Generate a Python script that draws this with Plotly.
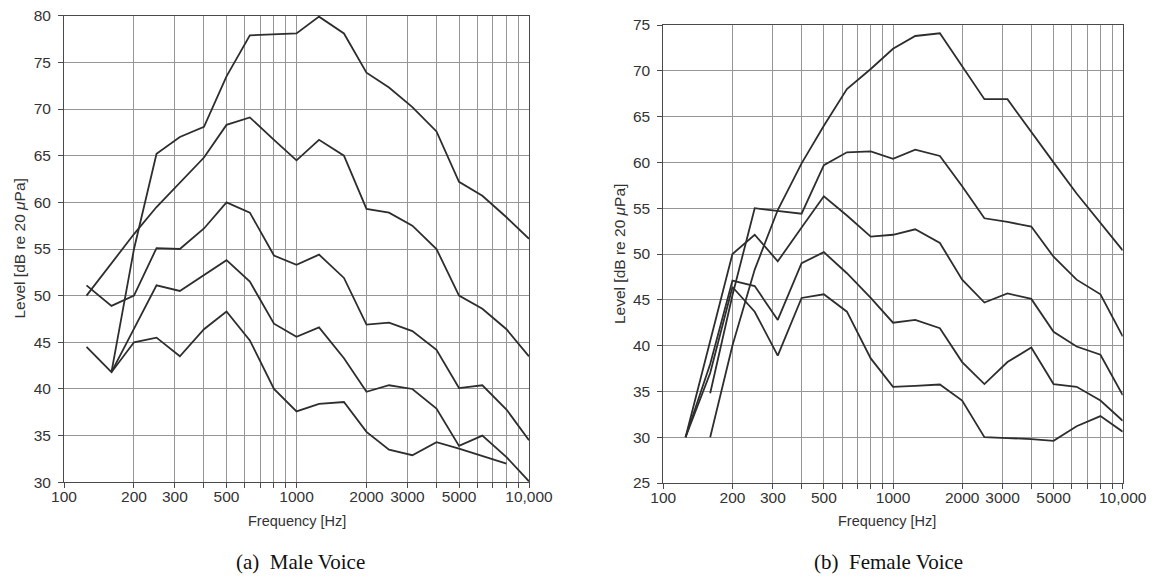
import plotly.graph_objects as go

# 1/3-octave band centre frequencies (Hz)
freq_hz = [125, 160, 200, 250, 315, 400, 500, 630, 800, 1000, 1250, 1600,
           2000, 2500, 3150, 4000, 5000, 6300, 8000, 10000]

# Male voice spectra, loudest to softest (dB re 20 uPa)
male_1 = [None, 41.8, 55.0, 65.2, 67.0, 68.1, 73.5, 77.9, 78.0, 78.1, 79.9, 78.1,
          73.9, 72.3, 70.2, 67.6, 62.2, 60.7, 58.4, 56.1]
male_2 = [50.0, 53.5, 56.6, 59.5, 62.1, 64.8, 68.3, 69.1, 66.7, 64.5, 66.7, 65.0,
          59.3, 58.9, 57.5, 55.0, 50.0, 48.6, 46.4, 43.5]
male_3 = [51.1, 48.9, 50.0, 55.1, 55.0, 57.2, 60.0, 58.9, 54.3, 53.3, 54.4, 51.9,
          46.9, 47.1, 46.2, 44.2, 40.1, 40.4, 37.8, 34.5]
male_4 = [None, 41.8, 46.5, 51.1, 50.5, 52.2, 53.8, 51.5, 47.0, 45.6, 46.6, 43.3,
          39.7, 40.4, 40.0, 37.9, 33.9, 35.0, 32.7, 30.1]
male_5 = [44.5, 41.8, 45.0, 45.5, 43.5, 46.4, 48.3, 45.2, 40.0, 37.6, 38.4, 38.6,
          35.4, 33.5, 32.9, 34.3, 33.6, 32.8, 32.0, None]

# Female voice spectra, loudest to softest (dB re 20 uPa)
female_1 = [None, 30.0, 40.0, 48.3, 54.8, 59.9, 64.0, 68.0, 70.2, 72.4, 73.8, 74.1,
            70.5, 66.9, 66.9, 63.3, 60.0, 56.6, 53.4, 50.4]
female_2 = [None, 34.8, 45.5, 55.0, 54.7, 54.4, 59.7, 61.1, 61.2, 60.4, 61.4, 60.7,
            57.4, 53.9, 53.5, 53.0, 49.7, 47.2, 45.6, 41.0]
female_3 = [30.0, 40.4, 50.0, 52.1, 49.2, 52.9, 56.3, 54.2, 51.9, 52.1, 52.7, 51.2,
            47.2, 44.7, 45.7, 45.1, 41.5, 39.9, 39.0, 34.6]
female_4 = [30.0, 38.0, 47.1, 46.5, 42.8, 49.0, 50.2, 47.9, 45.2, 42.5, 42.8, 41.9,
            38.2, 35.8, 38.2, 39.8, 35.8, 35.5, 34.0, 31.8]
female_5 = [30.0, 37.0, 46.4, 43.7, 38.9, 45.2, 45.6, 43.7, 38.6, 35.5, 35.6, 35.75,
            34.0, 30.0, 29.9, 29.8, 29.6, 31.2, 32.3, 30.6]

male_series = [male_1, male_2, male_3, male_4, male_5]
female_series = [female_1, female_2, female_3, female_4, female_5]

# Frequency axis: grid/ticks at every 1..9 x decade, labels on a subset
x_tick_vals = [100, 200, 300, 400, 500, 600, 700, 800, 900,
               1000, 2000, 3000, 4000, 5000, 6000, 7000, 8000, 9000, 10000]
x_tick_text = ["100", "200", "300", "", "500", "", "", "", "",
               "1000", "2000", "3000", "", "5000", "", "", "", "", "10,000"]

male_y_range = [30, 80]
female_y_range = [25, 75]

W, H = 1155, 583
LINE = "#2e2e2e"
GRID = "#969696"
AXIS = "#4a4a4a"
TICK_FONT = dict(family="Liberation Sans, Arial, sans-serif", size=15.5, color="#333333")

fig = go.Figure()

for s in male_series:
    fig.add_trace(go.Scatter(x=freq_hz, y=s, mode="lines", xaxis="x", yaxis="y",
                             line=dict(color=LINE, width=1.8), showlegend=False,
                             hoverinfo="skip"))
for s in female_series:
    fig.add_trace(go.Scatter(x=freq_hz, y=s, mode="lines", xaxis="x2", yaxis="y2",
                             line=dict(color=LINE, width=1.8), showlegend=False,
                             hoverinfo="skip"))


def px_x(v):
    return v / W


def px_y(v):
    return 1 - v / H


x_common = dict(type="log", range=[2, 4], tickmode="array", tickvals=x_tick_vals,
                ticktext=x_tick_text, showgrid=True, gridcolor=GRID, gridwidth=1,
                ticks="outside", ticklen=5, tickcolor=AXIS, showline=True,
                linecolor=AXIS, linewidth=1, mirror=True, zeroline=False,
                tickfont=TICK_FONT, ticklabelstandoff=-5, automargin=False)
y_common = dict(dtick=5, showgrid=True, gridcolor=GRID, gridwidth=1,
                ticks="outside", ticklen=5, tickcolor=AXIS, showline=True,
                linecolor=AXIS, linewidth=1, mirror=True, zeroline=False,
                tickfont=TICK_FONT, ticklabelstandoff=4, automargin=False)

fig.update_layout(
    width=W, height=H, autosize=False,
    margin=dict(l=0, r=0, t=0, b=0, pad=0),
    paper_bgcolor="white", plot_bgcolor="white",
    xaxis=dict(domain=[px_x(64), px_x(529)], anchor="y", **x_common),
    yaxis=dict(domain=[px_y(482.3), px_y(15.7)], anchor="x", range=male_y_range,
               tick0=30, **y_common),
    xaxis2=dict(domain=[px_x(663.3), px_x(1122.7)], anchor="y2", **x_common),
    yaxis2=dict(domain=[px_y(483), px_y(25)], anchor="x2", range=female_y_range,
                tick0=25, **y_common),
)

label_font = dict(family="Liberation Sans, Arial, sans-serif", size=14.5, color="#333333")
caption_font = dict(family="Liberation Serif, Times New Roman, serif", size=21, color="#111111")

annotations = [
    dict(text="Frequency [Hz]", x=px_x(297), y=px_y(521), font=label_font),
    dict(text="Frequency [Hz]", x=px_x(887), y=px_y(521), font=label_font),
    dict(text="Level [dB re 20 <i>μ</i>Pa]", x=px_x(18.5), y=px_y(249),
         textangle=-90, font=dict(label_font, size=15.5)),
    dict(text="Level [dB re 20 <i>μ</i>Pa]", x=px_x(619), y=px_y(254),
         textangle=-90, font=dict(label_font, size=15.5)),
    dict(text="(a)  Male Voice", x=px_x(300), y=px_y(562), font=caption_font),
    dict(text="(b)  Female Voice", x=px_x(888), y=px_y(562), font=caption_font),
]
for a in annotations:
    a.update(xref="paper", yref="paper", showarrow=False, xanchor="center",
             yanchor="middle")
fig.update_layout(annotations=annotations)

fig.write_html("out.html")
